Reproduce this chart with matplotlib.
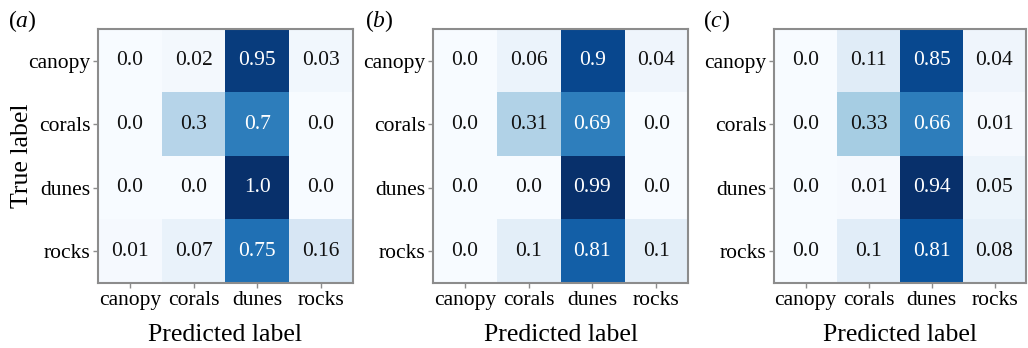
import matplotlib
matplotlib.use("Agg")
import matplotlib.pyplot as plt
import numpy as np

plt.rcParams["font.family"] = "Liberation Serif"
plt.rcParams["mathtext.fontset"] = "custom"
plt.rcParams["mathtext.rm"] = "Liberation Serif"
plt.rcParams["mathtext.it"] = "Liberation Serif:italic"

classes = ["canopy", "corals", "dunes", "rocks"]
panel_tags = ["a", "b", "c"]

cm_a = [[0.0, 0.02, 0.95, 0.03],
        [0.0, 0.3, 0.7, 0.0],
        [0.0, 0.0, 1.0, 0.0],
        [0.01, 0.07, 0.75, 0.16]]
cm_b = [[0.0, 0.06, 0.9, 0.04],
        [0.0, 0.31, 0.69, 0.0],
        [0.0, 0.0, 0.99, 0.0],
        [0.0, 0.1, 0.81, 0.1]]
cm_c = [[0.0, 0.11, 0.85, 0.04],
        [0.0, 0.33, 0.66, 0.01],
        [0.0, 0.01, 0.94, 0.05],
        [0.0, 0.1, 0.81, 0.08]]

fig = plt.figure(figsize=(10.28, 3.48), dpi=100)

# axes boxes in pixels: left, width (figure 1028 x 348)
boxes = [(98, 255), (433, 255), (774, 252)]
tag_x = [8, 365, 703]

for i, (cm, (lx, w)) in enumerate(zip([cm_a, cm_b, cm_c], boxes)):
    cm = np.array(cm)
    ax = fig.add_axes([lx / 1028, 1 - 283 / 348, w / 1028, 254 / 348])
    ax.imshow(cm, cmap="Blues", aspect="auto", interpolation="nearest")
    thr = (cm.max() + cm.min()) / 2
    for r in range(4):
        for c in range(4):
            v = cm[r, c]
            ax.text(c, r, str(round(v, 2)), ha="center", va="center", fontsize=15.5,
                    color="white" if v > thr else "#111111")
    ax.set_xticks(range(4))
    ax.set_yticks(range(4))
    ax.set_xticklabels(classes, fontsize=15.5)
    ax.set_yticklabels(classes, fontsize=15.5)
    ax.tick_params(length=3.5, width=1, color="#8c8c8c", pad=2)
    for s in ax.spines.values():
        s.set_color("#8c8c8c")
        s.set_linewidth(1.5)
    ax.set_xlabel("Predicted label", fontsize=18.5, labelpad=10)
    if i == 0:
        ax.set_ylabel("True label", fontsize=18.5, va="center")
        ax.yaxis.set_label_coords((22 - lx) / w, 0.5)
    fig.text(tag_x[i] / 1028, 1 - 27 / 348, "$(" + panel_tags[i] + ")$", fontsize=17)

fig.savefig("out.png", dpi=100)
